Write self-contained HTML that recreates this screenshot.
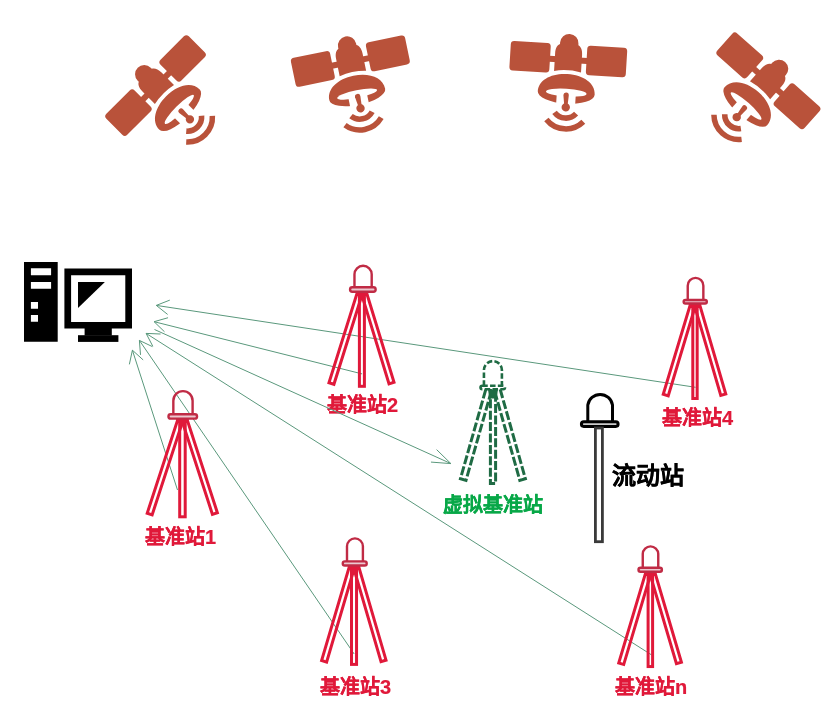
<!DOCTYPE html>
<html lang="zh-CN"><head><meta charset="utf-8"><style>
html,body{margin:0;padding:0;background:#fff;}
body{width:835px;height:712px;overflow:hidden;position:relative;font-family:"Liberation Sans",sans-serif;}
svg{position:absolute;left:0;top:0;}
.t{position:absolute;white-space:nowrap;font-weight:bold;line-height:1;will-change:transform;}
</style></head><body>
<div class="t" style="left:327.0px;top:395.3px;font-size:20px;color:#e0193a;-webkit-text-stroke:0.2px #e0193a">基准站2</div>
<div class="t" style="left:145.2px;top:527.3px;font-size:20px;color:#e0193a;-webkit-text-stroke:0.2px #e0193a">基准站1</div>
<div class="t" style="left:320.3px;top:676.7px;font-size:20px;color:#e0193a;-webkit-text-stroke:0.2px #e0193a">基准站3</div>
<div class="t" style="left:615.3px;top:676.7px;font-size:20px;color:#e0193a;-webkit-text-stroke:0.2px #e0193a">基准站n</div>
<div class="t" style="left:661.8px;top:408.2px;font-size:20px;color:#e0193a;-webkit-text-stroke:0.2px #e0193a">基准站4</div>
<div class="t" style="left:443.4px;top:494.8px;font-size:20px;color:#08a848;-webkit-text-stroke:0.2px #08a848">虚拟基准站</div>
<div class="t" style="left:612.4px;top:464.4px;font-size:24px;color:#000;-webkit-text-stroke:0.3px #000">流动站</div>
<svg width="835" height="712" viewBox="0 0 835 712">
<g fill="#b9523a" transform="translate(155.55,85.55) rotate(-45)"><rect x="-58.3" y="-14.75" width="40" height="29.5" rx="3.5"/>
<rect x="18.3" y="-14.75" width="40" height="29.5" rx="3.5"/>
<rect x="-19" y="-2.2" width="38" height="6"/>
<path d="M-13.5,12.6 L-13.5,-5 C-13.5,-10.5 -11.5,-13.5 -9.2,-14.5 L-9.2,-16 A9.2,9.2 0 0 1 9.2,-16 L9.2,-14.5 C11.5,-13.5 13.5,-10.5 13.5,-5 L13.5,12.6 Q0,9.6 -13.5,12.6 Z"/>
<mask id="dm0"><rect x="-40" y="0" width="80" height="60" fill="#fff"/><path d="M-20.3,33.6 A20.3,3.9 0 0 0 20.3,33.6 A20.3,3.9 0 0 0 -20.3,33.6 Z" fill="#000"/><rect x="-9.4" y="33.6" width="19" height="20" fill="#000"/></mask>
<path d="M-28.5,34 C-28.5,22.5 -16,15 0,15 C16,15 28.5,22.5 28.5,34 A28.5,10.6 0 0 1 -28.5,34 Z" mask="url(#dm0)"/>
<path d="M-2.7,36.2 A2.7,2.7 0 0 1 2.7,36.2 L2.1,46 L-1.3,46 Z"/>
<circle cx="0.4" cy="48.2" r="4.2"/>
<path d="M-10.50,53.96 A14.1,14.1 0 0 0 11.10,53.96" fill="none" stroke="#b9523a" stroke-width="5.6"/>
<path d="M-18.20,61.56 A24.9,24.9 0 0 0 18.80,61.56" fill="none" stroke="#b9523a" stroke-width="5.5"/></g>
<g fill="#b9523a" transform="translate(350.35,61.15) rotate(-11.7)"><rect x="-58.3" y="-14.75" width="40" height="29.5" rx="3.5"/>
<rect x="18.3" y="-14.75" width="40" height="29.5" rx="3.5"/>
<rect x="-19" y="-2.2" width="38" height="6"/>
<path d="M-13.5,12.6 L-13.5,-5 C-13.5,-10.5 -11.5,-13.5 -9.2,-14.5 L-9.2,-16 A9.2,9.2 0 0 1 9.2,-16 L9.2,-14.5 C11.5,-13.5 13.5,-10.5 13.5,-5 L13.5,12.6 Q0,9.6 -13.5,12.6 Z"/>
<mask id="dm1"><rect x="-40" y="0" width="80" height="60" fill="#fff"/><path d="M-20.3,33.6 A20.3,3.9 0 0 0 20.3,33.6 A20.3,3.9 0 0 0 -20.3,33.6 Z" fill="#000"/><rect x="-9.4" y="33.6" width="19" height="20" fill="#000"/></mask>
<path d="M-28.5,34 C-28.5,22.5 -16,15 0,15 C16,15 28.5,22.5 28.5,34 A28.5,10.6 0 0 1 -28.5,34 Z" mask="url(#dm1)"/>
<path d="M-2.7,36.2 A2.7,2.7 0 0 1 2.7,36.2 L2.1,46 L-1.3,46 Z"/>
<circle cx="0.4" cy="48.2" r="4.2"/>
<path d="M-10.50,53.96 A14.1,14.1 0 0 0 11.10,53.96" fill="none" stroke="#b9523a" stroke-width="5.6"/>
<path d="M-18.20,61.56 A24.9,24.9 0 0 0 18.80,61.56" fill="none" stroke="#b9523a" stroke-width="5.5"/></g>
<g fill="#b9523a" transform="translate(568.3,59.15) rotate(3.5)"><rect x="-58.3" y="-14.75" width="40" height="29.5" rx="3.5"/>
<rect x="18.3" y="-14.75" width="40" height="29.5" rx="3.5"/>
<rect x="-19" y="-2.2" width="38" height="6"/>
<path d="M-13.5,12.6 L-13.5,-5 C-13.5,-10.5 -11.5,-13.5 -9.2,-14.5 L-9.2,-16 A9.2,9.2 0 0 1 9.2,-16 L9.2,-14.5 C11.5,-13.5 13.5,-10.5 13.5,-5 L13.5,12.6 Q0,9.6 -13.5,12.6 Z"/>
<mask id="dm2"><rect x="-40" y="0" width="80" height="60" fill="#fff"/><path d="M-20.3,33.6 A20.3,3.9 0 0 0 20.3,33.6 A20.3,3.9 0 0 0 -20.3,33.6 Z" fill="#000"/><rect x="-9.4" y="33.6" width="19" height="20" fill="#000"/></mask>
<path d="M-28.5,34 C-28.5,22.5 -16,15 0,15 C16,15 28.5,22.5 28.5,34 A28.5,10.6 0 0 1 -28.5,34 Z" mask="url(#dm2)"/>
<path d="M-2.7,36.2 A2.7,2.7 0 0 1 2.7,36.2 L2.1,46 L-1.3,46 Z"/>
<circle cx="0.4" cy="48.2" r="4.2"/>
<path d="M-10.50,53.96 A14.1,14.1 0 0 0 11.10,53.96" fill="none" stroke="#b9523a" stroke-width="5.6"/>
<path d="M-18.20,61.56 A24.9,24.9 0 0 0 18.80,61.56" fill="none" stroke="#b9523a" stroke-width="5.5"/></g>
<g fill="#b9523a" transform="translate(768.4,80.85) rotate(41.6)"><rect x="-58.3" y="-14.75" width="40" height="29.5" rx="3.5"/>
<rect x="18.3" y="-14.75" width="40" height="29.5" rx="3.5"/>
<rect x="-19" y="-2.2" width="38" height="6"/>
<path d="M-13.5,12.6 L-13.5,-5 C-13.5,-10.5 -11.5,-13.5 -9.2,-14.5 L-9.2,-16 A9.2,9.2 0 0 1 9.2,-16 L9.2,-14.5 C11.5,-13.5 13.5,-10.5 13.5,-5 L13.5,12.6 Q0,9.6 -13.5,12.6 Z"/>
<mask id="dm3"><rect x="-40" y="0" width="80" height="60" fill="#fff"/><path d="M-20.3,33.6 A20.3,3.9 0 0 0 20.3,33.6 A20.3,3.9 0 0 0 -20.3,33.6 Z" fill="#000"/><rect x="-9.4" y="33.6" width="19" height="20" fill="#000"/></mask>
<path d="M-28.5,34 C-28.5,22.5 -16,15 0,15 C16,15 28.5,22.5 28.5,34 A28.5,10.6 0 0 1 -28.5,34 Z" mask="url(#dm3)"/>
<path d="M-2.7,36.2 A2.7,2.7 0 0 1 2.7,36.2 L2.1,46 L-1.3,46 Z"/>
<circle cx="0.4" cy="48.2" r="4.2"/>
<path d="M-10.50,53.96 A14.1,14.1 0 0 0 11.10,53.96" fill="none" stroke="#b9523a" stroke-width="5.6"/>
<path d="M-18.20,61.56 A24.9,24.9 0 0 0 18.80,61.56" fill="none" stroke="#b9523a" stroke-width="5.5"/></g>
<g fill="#000">
<path d="M24,262 H57.7 V341.7 H24 Z M30.9,268.3 V275.3 H51.1 V268.3 Z M30.9,281.9 V288.7 H51.1 V281.9 Z M30.9,301.9 V308.7 H38 V301.9 Z M30.9,315 V321.7 H38 V315 Z" fill-rule="evenodd"/>
<path d="M64.4,268.6 H132 V328.6 H64.4 Z M71.1,275.2 V321.9 H125.3 V275.2 Z" fill-rule="evenodd"/>
<path d="M78,282.1 H104.9 L78,308 Z"/>
<rect x="84.6" y="328" width="27.2" height="7.6"/>
<rect x="78" y="335.2" width="40.4" height="6.7"/>
</g>
<g fill="none" stroke="#5a987c" stroke-width="1">
<path d="M695.60,387.30 L156.30,305.40 M169.80,300.12 L156.30,305.40 L167.63,314.45"/>
<path d="M362.10,373.90 L154.10,321.70 M168.04,317.72 L154.10,321.70 L164.51,331.79"/>
<path d="M651.40,654.80 L146.10,333.40 M160.59,334.02 L146.10,333.40 L152.80,346.26"/>
<path d="M354.20,654.00 L139.40,340.40 M152.48,346.66 L139.40,340.40 L140.51,354.86"/>
<path d="M177.50,490.00 L132.40,350.20 M143.16,359.92 L132.40,350.20 L129.36,364.38"/>
<path d="M154.50,329.50 L450.90,463.60 M430.96,462.09 L450.90,463.60 L436.60,449.62"/>
</g>
<clipPath id="cs2"><rect x="308.85" y="291.40" width="108.00" height="104.90"/></clipPath>
<g fill="none" stroke="#e0193a" stroke-width="3.0" clip-path="url(#cs2)">
<rect x="-2.60" y="-6" width="5.20" height="100.93" transform="translate(359.90,292.90) rotate(17.44)"/>
<rect x="-2.60" y="-6" width="5.20" height="100.30" transform="translate(363.90,292.90) rotate(-17.03)"/>
<rect x="359.40" y="288.90" width="5.00" height="97.40"/>
</g>
<path d="M355.60,291.90 L368.20,291.90 L366.70,296.10 L357.10,296.10 Z" fill="#e0193a"/>
<path d="M354.47,287.30 L354.47,274.37 A8.61,8.61 0 0 1 371.70,274.37 L371.70,287.30" fill="none" stroke="#c02b45" stroke-width="2.4"/>
<rect x="350.05" y="287.30" width="25.60" height="4.40" rx="2.20" fill="#ecc9d0" stroke="#c02b45" stroke-width="2.4"/>
<clipPath id="cs1"><rect x="127.27" y="418.30" width="110.97" height="108.50"/></clipPath>
<g fill="none" stroke="#e0193a" stroke-width="3.0" clip-path="url(#cs1)">
<rect x="-2.60" y="-6" width="5.20" height="105.17" transform="translate(180.45,419.80) rotate(18.08)"/>
<rect x="-2.60" y="-6" width="5.20" height="104.49" transform="translate(184.45,419.80) rotate(-18.00)"/>
<rect x="179.70" y="415.80" width="5.50" height="101.00"/>
</g>
<path d="M176.15,418.80 L188.75,418.80 L187.25,423.00 L177.65,423.00 Z" fill="#e0193a"/>
<path d="M173.34,414.30 L173.34,400.76 A9.63,9.63 0 0 1 192.60,400.76 L192.60,414.30" fill="none" stroke="#c02b45" stroke-width="2.4"/>
<rect x="168.47" y="414.30" width="28.57" height="4.30" rx="2.15" fill="#ecc9d0" stroke="#c02b45" stroke-width="2.4"/>
<clipPath id="cs3"><rect x="301.57" y="565.20" width="106.33" height="109.20"/></clipPath>
<g fill="none" stroke="#e0193a" stroke-width="3.0" clip-path="url(#cs3)">
<rect x="-2.60" y="-6" width="5.20" height="104.64" transform="translate(352.02,566.70) rotate(16.43)"/>
<rect x="-2.60" y="-6" width="5.20" height="104.10" transform="translate(356.02,566.70) rotate(-16.28)"/>
<rect x="351.50" y="562.70" width="5.05" height="101.70"/>
</g>
<path d="M347.72,565.70 L360.32,565.70 L358.82,569.90 L349.22,569.90 Z" fill="#e0193a"/>
<path d="M347.00,561.40 L347.00,546.35 A7.95,7.95 0 0 1 362.90,546.35 L362.90,561.40" fill="none" stroke="#c02b45" stroke-width="2.4"/>
<rect x="342.77" y="561.40" width="23.93" height="4.10" rx="2.05" fill="#ecc9d0" stroke="#c02b45" stroke-width="2.4"/>
<clipPath id="csn"><rect x="597.30" y="571.40" width="105.80" height="105.16"/></clipPath>
<g fill="none" stroke="#e0193a" stroke-width="3.0" clip-path="url(#csn)">
<rect x="-2.60" y="-6" width="5.20" height="100.82" transform="translate(648.35,572.90) rotate(16.62)"/>
<rect x="-2.60" y="-6" width="5.20" height="99.90" transform="translate(652.35,572.90) rotate(-16.44)"/>
<rect x="648.10" y="568.90" width="4.50" height="97.66"/>
</g>
<path d="M644.05,571.90 L656.65,571.90 L655.15,576.10 L645.55,576.10 Z" fill="#e0193a"/>
<path d="M642.76,567.70 L642.76,553.88 A7.75,7.75 0 0 1 658.25,553.88 L658.25,567.70" fill="none" stroke="#c02b45" stroke-width="2.4"/>
<rect x="638.50" y="567.70" width="23.40" height="4.00" rx="2.00" fill="#ecc9d0" stroke="#c02b45" stroke-width="2.4"/>
<clipPath id="cs4"><rect x="642.43" y="303.27" width="105.60" height="105.23"/></clipPath>
<g fill="none" stroke="#e0193a" stroke-width="3.0" clip-path="url(#cs4)">
<rect x="-2.60" y="-6" width="5.20" height="100.32" transform="translate(692.98,304.77) rotate(16.79)"/>
<rect x="-2.60" y="-6" width="5.20" height="99.66" transform="translate(696.98,304.77) rotate(-16.30)"/>
<rect x="692.80" y="300.77" width="4.37" height="97.73"/>
</g>
<path d="M688.68,303.77 L701.28,303.77 L699.78,307.97 L690.18,307.97 Z" fill="#e0193a"/>
<path d="M687.74,299.96 L687.74,285.64 A7.80,7.80 0 0 1 703.35,285.64 L703.35,299.96" fill="none" stroke="#c02b45" stroke-width="2.4"/>
<rect x="683.63" y="299.96" width="23.20" height="3.61" rx="1.80" fill="#ecc9d0" stroke="#c02b45" stroke-width="2.4"/>
<clipPath id="cv"><rect x="439.20" y="389.00" width="107.10" height="104.40"/></clipPath>
<g fill="none" stroke="#1f6b44" stroke-width="3.0" stroke-dasharray="9 2.4" clip-path="url(#cv)">
<rect x="-2.90" y="-6" width="5.80" height="98.58" transform="translate(488.50,390.50) rotate(15.85)"/>
<rect x="-2.90" y="-6" width="5.80" height="98.52" transform="translate(497.50,390.50) rotate(-15.74)"/>
<rect x="490.40" y="386.50" width="5.20" height="96.90"/>
</g>
<path d="M488.00,389.50 L498.00,389.50 L496.50,398.50 L489.50,398.50 Z" fill="#1f6b44"/>
<path d="M483.94,385.70 L483.94,370.08 A8.98,8.98 0 0 1 501.90,370.08 L501.90,385.70" fill="none" stroke="#1f6b44" stroke-width="2.6" stroke-dasharray="5.5 2.3"/>
<rect x="480.50" y="385.70" width="24.50" height="3.50" rx="1.75" fill="none" stroke="#1f6b44" stroke-width="2.6" stroke-dasharray="5.5 2.3"/>
<path d="M587.8,421.7 V405 A12.5,12.5 0 0 1 612.5,405 V421.7" fill="none" stroke="#000" stroke-width="3"/>
<rect x="581.4" y="421.7" width="36.7" height="4.7" rx="2.35" fill="#ccc" stroke="#000" stroke-width="3"/>
<rect x="595.4" y="428" width="7" height="113.7" fill="none" stroke="#3a3a3a" stroke-width="2.8"/>
</svg>
</body></html>
